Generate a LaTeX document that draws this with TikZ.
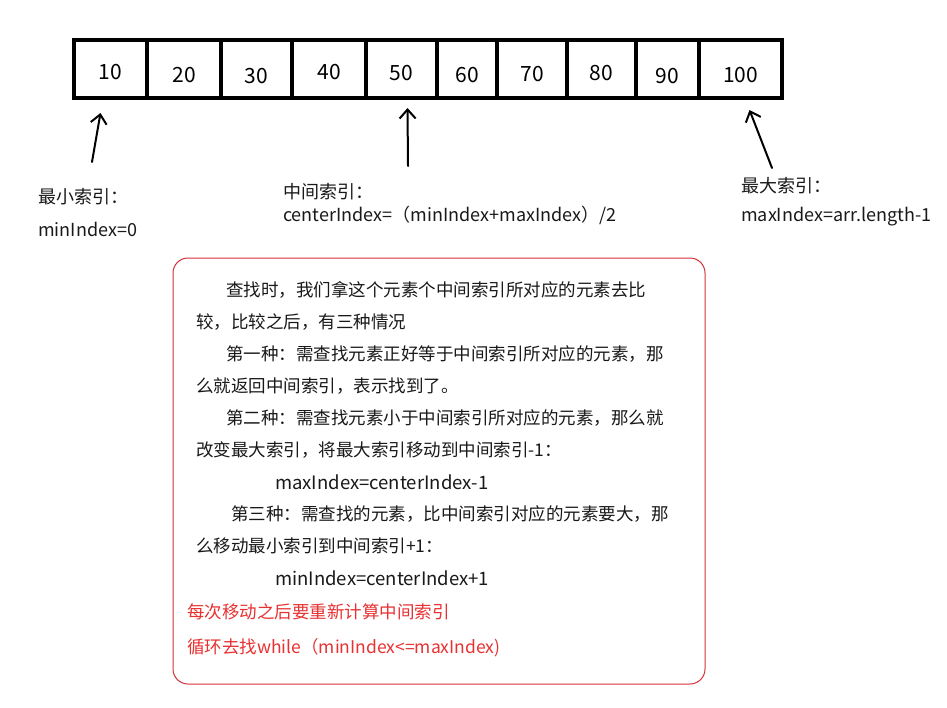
\documentclass[tikz,border=0pt]{standalone}
\usepackage{fontspec}
\setmainfont{Noto Sans CJK SC}
\usepackage{xcolor}
\usetikzlibrary{arrows.meta,positioning,calc}
\colorlet{inkblack}{black!90}
\definecolor{noteedge}{RGB}{214,48,58}
\definecolor{notered}{RGB}{232,50,50}
\tikzset{
    cellbox/.style={
        rectangle, draw=black, line width=4pt,
        minimum height=58pt, inner sep=0pt,
        text height=15pt, text depth=0pt,
        font=\fontsize{21}{23}\selectfont
    },
    lbltext/.style={
        anchor=west, inner sep=0pt, text=inkblack,
        font=\fontsize{18}{20}\selectfont
    },
    notetext/.style={
        anchor=west, inner sep=0pt, text=inkblack,
        font=\fontsize{17.5}{20}\selectfont
    },
    codetext/.style={notetext, font=\fontsize{18.5}{20}\selectfont},
    redtext/.style={notetext, text=notered},
    notebox/.style={
        rectangle, rounded corners=15pt, draw=noteedge, line width=1pt,
        minimum width=532pt, minimum height=426pt
    },
    pointer/.style={-{Straight Barb[length=9pt,width=16pt,line width=2pt]},
        line width=2pt, line cap=round}
}

\begin{document}
\begin{tikzpicture}[x=1pt, y=-1pt]
    \useasboundingbox[fill=white] (0,0) rectangle (947,707);
    % array cells: left/right edge, value, name, text drop
    \foreach \l/\r/\v/\n/\dy in {74/147/10/c1/3, 147/221/20/c2/6, 221/292/30/c3/7,
        292/366/40/c4/3, 366/437/50/c5/4, 437/497/60/c6/6, 497/567/70/c7/5,
        567/636/80/c8/4, 636/699/90/c9/7, 699/782/100/c10/6}
        \node[cellbox, minimum width=\r pt-\l pt] (\n) at ({(\l+\r)/2},69)
            {\raisebox{-\dy pt}{\v}};
    % pointers from below
    \coordinate (t1) at (92,162);
    \coordinate (t2) at (408,166);
    \coordinate (t3) at (772,168);
    \draw[pointer] (t1) -- ([xshift=-10pt,yshift=-13pt]c1.south);
    \draw[pointer] (t2) -- ([xshift=6pt,yshift=-8pt]c5.south);
    \draw[pointer] (t3) -- ([xshift=9pt,yshift=-10pt]c10.south);
    % index labels
    \node[lbltext] (minlbl) at (38,197) {最小索引：};
    \node[lbltext] (minval) at (38,229) {minIndex=0};
    \node[lbltext] (midlbl) at (283,192) {中间索引：};
    \node[lbltext] (midval) at (283,215) {centerIndex=（minIndex+maxIndex）/2};
    \node[lbltext] (maxlbl) at (741,186) {最大索引：};
    \node[lbltext] (maxval) at (741,217) {maxIndex=arr.length-1};
    % explanation box
    \node[notebox] (note) at (439,471) {};
    \node[notetext] (n1) at (226,290) {查找时，我们拿这个元素个中间索引所对应的元素去比};
    \node[notetext] (n2) at (196,322) {较，比较之后，有三种情况};
    \node[notetext] (n3) at (226,354) {第一种：需查找元素正好等于中间索引所对应的元素，那};
    \node[notetext] (n4) at (196,386) {么就返回中间索引，表示找到了。};
    \node[notetext] (n5) at (226,418) {第二种：需查找元素小于中间索引所对应的元素，那么就};
    \node[notetext] (n6) at (196,450) {改变最大索引，将最大索引移动到中间索引-1：};
    \node[codetext] (n7) at (275,482) {maxIndex=centerIndex-1};
    \node[notetext] (n8) at (231,514) {第三种：需查找的元素，比中间索引对应的元素要大，那};
    \node[notetext] (n9) at (196,546) {么移动最小索引到中间索引+1：};
    \node[codetext] (n10) at (275,578) {minIndex=centerIndex+1};
    \node[redtext] (r1) at (187,612) {每次移动之后要重新计算中间索引};
    \node[redtext] (r2) at (187,648) {循环去找while（minIndex<=maxIndex)};
\end{tikzpicture}
\end{document}
